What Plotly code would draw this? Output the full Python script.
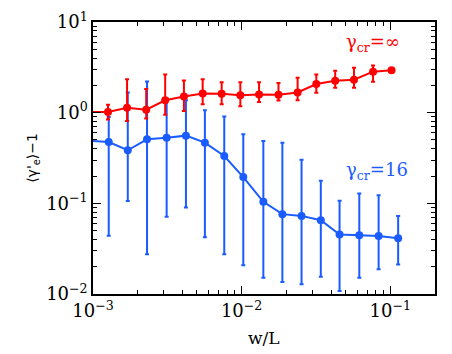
import plotly.graph_objects as go

# w/L positions (first point sits just left of the plotted range)
w_inf = [0.00094, 0.001262, 0.001695, 0.00228, 0.00306, 0.00409, 0.00547, 0.00734,
         0.0098, 0.0131, 0.0177, 0.0238, 0.0318, 0.0426, 0.0570, 0.0766, 0.102]
g_inf = [1.02, 1.02, 1.13, 1.08, 1.37, 1.51, 1.63, 1.62, 1.56,
         1.59, 1.58, 1.67, 2.07, 2.25, 2.31, 2.83, 2.94]
g_inf_hi = [1.02, 1.22, 2.33, 1.82, 2.64, 2.27, 2.34, 2.17, 2.17,
            2.16, 2.12, 2.43, 2.64, 2.90, 3.13, 3.32, 3.10]
g_inf_lo = [1.02, 0.84, 0.81, 0.865, 0.95, 1.04, 1.24, 1.24, 1.18,
            1.31, 1.36, 1.37, 1.66, 1.88, 1.88, 2.19, 2.78]

w_16 = [0.00094, 0.001276, 0.001714, 0.00231, 0.00313, 0.00422, 0.00566, 0.00764,
        0.01026, 0.0140, 0.0188, 0.0253, 0.0341, 0.0456, 0.0619, 0.0835, 0.113]
g_16 = [0.49, 0.475, 0.385, 0.508, 0.53, 0.558, 0.467, 0.333, 0.195,
        0.104, 0.076, 0.0727, 0.065, 0.0453, 0.0445, 0.0437, 0.0413]
g_16_hi = [0.49, 0.895, 1.67, 2.21, 1.43, 1.37, 1.06, 0.91, 0.577,
           0.487, 0.467, 0.303, 0.177, 0.107, 0.128, 0.123, 0.0726]
g_16_lo = [0.49, 0.0438, 0.106, 0.0275, 0.0709, 0.09, 0.0423, 0.0275, 0.0208,
           0.0151, 0.0136, 0.0128, 0.0155, 0.0108, 0.0151, 0.0188, 0.0212]

RED = "#FF0000"
BLUE = "#1A5CFF"
SERIF = "DejaVu Serif"


def trace(x, y, hi, lo, color):
    return go.Scatter(
        x=x, y=y, mode="lines+markers",
        line=dict(color=color, width=2),
        marker=dict(color=color, size=8),
        error_y=dict(type="data", symmetric=False,
                     array=[h - v for h, v in zip(hi, y)],
                     arrayminus=[v - l for v, l in zip(y, lo)],
                     color=color, thickness=2, width=2),
        showlegend=False,
    )


fig = go.Figure([trace(w_16, g_16, g_16_hi, g_16_lo, BLUE),
                 trace(w_inf, g_inf, g_inf_hi, g_inf_lo, RED)])

x_minor = [m * 10 ** e for e in (-3, -2, -1) for m in range(2, 10)]
y_minor = [m * 10 ** e for e in (-2, -1, 0) for m in range(2, 10)]

axis_common = dict(
    type="log", showline=True, linecolor="black", linewidth=1.5, mirror="allticks",
    ticks="inside", ticklen=8, tickwidth=1, tickcolor="black",
    showgrid=False, zeroline=False, automargin=False,
    tickfont=dict(family=SERIF, size=18, color="black"),
)

fig.update_xaxes(
    range=[-3, -0.699],
    tickvals=[0.001, 0.01, 0.1],
    ticktext=["10<sup>−3</sup>", "10<sup>−2</sup>", "10<sup>−1</sup>"],
    minor=dict(tickmode="array", tickvals=x_minor, ticks="inside", ticklen=4,
               tickcolor="black", showgrid=False),
    **axis_common,
)
fig.update_yaxes(
    range=[-2, 1],
    tickvals=[0.01, 0.1, 1, 10],
    ticktext=["10<sup>−2</sup>", "10<sup>−1</sup>", "10<sup>0</sup>", "10<sup>1</sup>"],
    minor=dict(tickmode="array", tickvals=y_minor, ticks="inside", ticklen=4,
               tickcolor="black", showgrid=False),
    **axis_common,
)

# axis titles placed by hand so they sit where the original has them
fig.add_annotation(x=-0.208, y=0.5, xref="paper", yref="paper", textangle=-90,
                   text="⟨γ'<sub>e</sub>⟩−1", showarrow=False,
                   font=dict(family="DejaVu Sans", size=14, color="black"))
fig.add_annotation(x=0.5, y=-0.162, xref="paper", yref="paper", yanchor="middle",
                   text="w/L", showarrow=False,
                   font=dict(family=SERIF, size=17, color="black"))

fig.add_annotation(x=0.903, y=0.923, xref="paper", yref="paper", xanchor="right", yanchor="middle",
                   text="γ<sub>cr</sub>=∞", showarrow=False,
                   font=dict(family=SERIF, size=18, color=RED))
fig.add_annotation(x=0.927, y=0.452, xref="paper", yref="paper", xanchor="right", yanchor="middle",
                   text="γ<sub>cr</sub>=16", showarrow=False,
                   font=dict(family=SERIF, size=18, color=BLUE))

fig.update_layout(
    width=452, height=354,
    margin=dict(l=85, r=25, t=14, b=68),
    plot_bgcolor="white", paper_bgcolor="white",
)

fig.write_html("out.html")
